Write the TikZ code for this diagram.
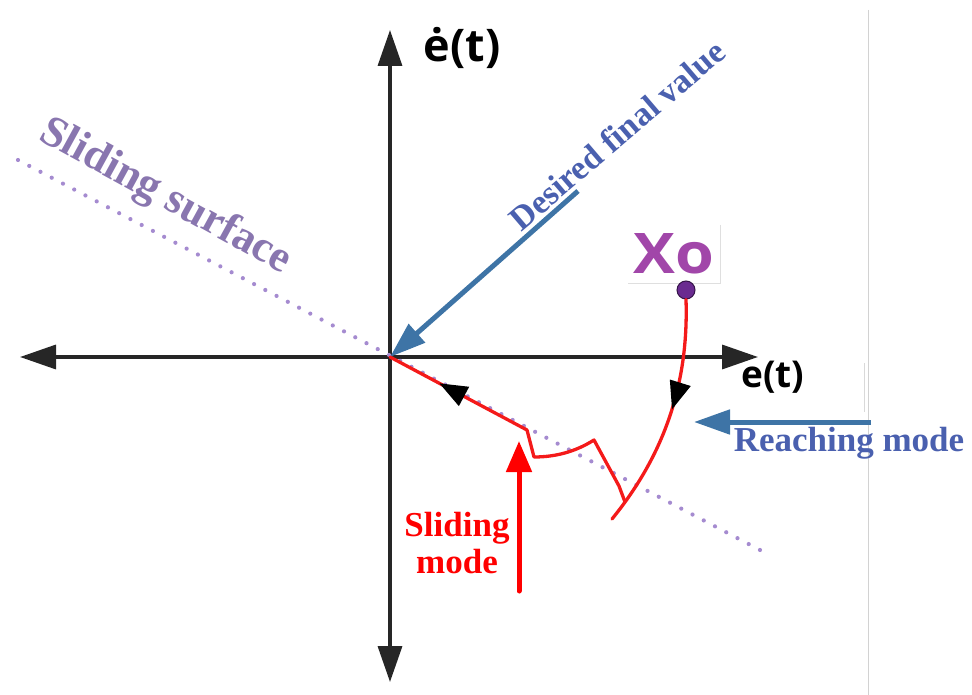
\documentclass[tikz,border=0pt]{standalone}
\usepackage{fontspec}
\setmainfont{Liberation Serif}
\newfontfamily\axisfont{Open Sans}
\usepackage{tikz}
\usetikzlibrary{arrows.meta,calc,positioning,decorations.markings}
\definecolor{SteelArrow}{HTML}{3E74A6}
\definecolor{LabelBlue}{HTML}{4A60AF}
\definecolor{SurfLilac}{HTML}{8976AF}
\definecolor{DotLilac}{HTML}{A58BD0}
\definecolor{XoPurple}{HTML}{A146A9}
\definecolor{StartPurple}{HTML}{6A2B90}
\definecolor{TrajRed}{HTML}{F41A1A}

\begin{document}
\begin{tikzpicture}[x=1pt,y=-1pt,>=Latex,
  axis/.style={line width=3.5pt,black!85,{Triangle[length=36pt,width=24pt]}-{Triangle[length=36pt,width=24pt]}},
  bluearrow/.style={line width=5pt,SteelArrow,-{Triangle[length=36pt,width=24pt]}},
  traj/.style={line width=3.3pt,TrajRed,line join=round,line cap=round},
  midtip/.style={postaction={decorate},decoration={markings,
    mark=at position #1 with {\arrow[black]{Triangle[length=28pt,width=21pt]}}}},
  lbl/.style={font=\bfseries\fontsize{35}{37}\selectfont,align=center,inner sep=0pt}]
  \useasboundingbox (0,0) rectangle (972,695);
  % axes
  \coordinate (O) at (390,357);
  \coordinate (xneg) at (20,357);   \coordinate (xpos) at (758,357);
  \coordinate (yneg) at (390,682);  \coordinate (ypos) at (390,30);
  \draw[axis] (xneg) -- (xpos);
  \draw[axis] (yneg) -- (ypos);
  \node[font=\axisfont\bfseries\fontsize{45}{45}\selectfont,inner sep=0pt] (edot) at (462,48) {ė(t)};
  \node[font=\axisfont\bfseries\fontsize{37}{37}\selectfont,inner sep=0pt] (elab) at (773,377) {e(t)};
  % right margin lines
  \coordinate (m1) at (868,10);  \coordinate (m2) at (868,695);
  \coordinate (m3) at (864,363); \coordinate (m4) at (864,412);
  \draw[gray!35,line width=1pt] (m1) -- (m2);
  \draw[gray!30,line width=1pt] (m3) -- (m4);
  % sliding surface
  \coordinate (ss1) at (18,160); \coordinate (ss2) at (760,550);
  \draw[DotLilac,line width=4.2pt,line cap=round,dash pattern=on 0pt off 12.7pt] (ss1) -- (ss2);
  \node[lbl,SurfLilac,font=\bfseries\fontsize{44}{44}\selectfont,rotate=-28.7] (surf) at (165,197) {Sliding surface};
  % desired final value
  \node[lbl,LabelBlue,font=\bfseries\fontsize{34}{34}\selectfont,rotate=40.5] (dfv) at (617,135) {Desired final value};
  \coordinate (dfvTail) at (578,191);
  \draw[bluearrow] (dfvTail) -- (O);
  % initial state
  \node[XoPurple,font=\axisfont\bfseries\fontsize{56}{56}\selectfont,xscale=1.12,minimum width=82pt,minimum height=58pt,inner sep=0pt] (xo) at (674,254) {Xo};
  \draw[gray!25,line width=0.8pt] (xo.north east) -- (xo.south east) -- (xo.south west);
  \node[circle,fill=StartPurple,draw=StartPurple!50!black,line width=1pt,minimum size=18pt,inner sep=0pt] (x0) at (686,290) {};
  % trajectory
  \coordinate (a1) at (612,519);
  \coordinate (b1) at (625,502); \coordinate (b2) at (619,486);
  \coordinate (b3) at (594,440); \coordinate (b4) at (534,457);
  \coordinate (b5) at (527,430);
  \draw[traj,midtip=0.47] (x0.south) .. controls (689,390) and (660,460) .. (a1);
  \draw[traj] (b1) -- (b2) -- (b3) .. controls (575,452) and (555,457) .. (b4) -- (b5);
  \draw[traj,midtip=0.64] (b5) -- (O);
  % reaching mode
  \coordinate (rmTail) at (871,422); \coordinate (rmTip) at (694,422);
  \draw[bluearrow] (rmTail) -- (rmTip);
  \node[lbl,LabelBlue] (rm) at (849,443) {Reaching mode};
  % sliding mode
  \coordinate (smTail) at (519,591); \coordinate (smTip) at (519,441);
  \draw[line width=5pt,red,line cap=round,-{Triangle[length=31pt,width=25pt]}] (smTail) -- (smTip);
  \node[lbl,red] (sm) at (457,543) {Sliding\\mode};
\end{tikzpicture}
\end{document}
